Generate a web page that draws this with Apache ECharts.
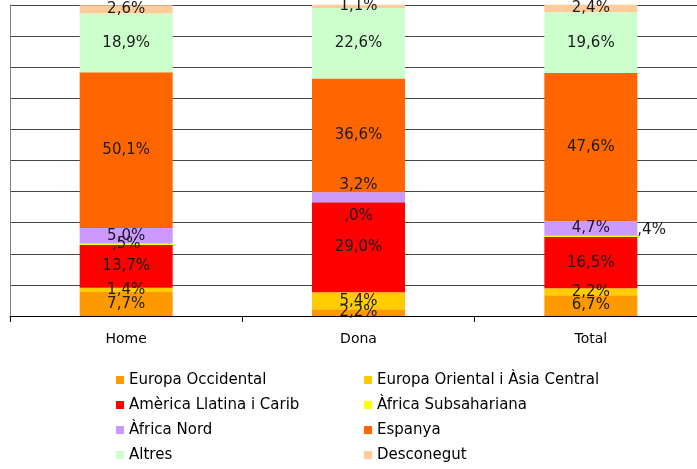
<!DOCTYPE html>
<html>
<head>
<meta charset="utf-8">
<script src="https://cdn.jsdelivr.net/npm/echarts@6/dist/echarts.min.js"></script>
<style>
  html, body { margin: 0; padding: 0; background: #fff; overflow: hidden; }
  #chart { width: 707px; height: 469px; }
</style>
</head>
<body>
<div id="chart"></div>
<script>
const categories = ["Home", "Dona", "Total"];
const europaOccidental = [7.7, 2.2, 6.7];
const europaOriental = [1.4, 5.4, 2.2];
const americaLlatina = [13.7, 29.0, 16.5];
const africaSubsahariana = [0.5, 0.0, 0.4];
const africaNord = [5.0, 3.2, 4.7];
const espanya = [50.1, 36.6, 47.6];
const altres = [18.9, 22.6, 19.6];
const desconegut = [2.6, 1.1, 2.4];

// legend order: left column, right column
const legendLeft = ["Europa Occidental", "Amèrica Llatina i Carib", "Àfrica Nord", "Altres"];
const legendRight = ["Europa Oriental i Àsia Central", "Àfrica Subsahariana", "Espanya", "Desconegut"];

const font = "DejaVu Sans";
const pct = (v) => v.toFixed(1).replace(".", ",") + "%";

function series(name, data, color, extra) {
  return Object.assign({
    name: name,
    type: "bar",
    stack: "total",
    barWidth: 93,
    clip: false,
    itemStyle: { color: color },
    label: {
      show: true,
      position: "inside",
      color: "#1a1a1a",
      fontFamily: font,
      fontSize: 15,
      formatter: (p) => pct(p.value),
    },
    data: data,
  }, extra || {});
}

function legendItem(name, left, top) {
  return {
    left: left,
    top: top,
    icon: "rect",
    itemWidth: 8,
    itemHeight: 8,
    padding: 0,
    textStyle: { fontFamily: font, fontSize: 15, color: "#000", lineHeight: 16 },
    data: [name],
  };
}

const legends = [];
legendLeft.forEach((n, i) => legends.push(legendItem(n, 116, 372 + i * 25)));
legendRight.forEach((n, i) => legends.push(legendItem(n, 364, 372 + i * 25)));

const chart = echarts.init(document.getElementById("chart"));
chart.setOption({
  animation: false,
  grid: { left: 10, right: 0, top: 5, bottom: 153 },
  legend: legends,
  xAxis: {
    type: "category",
    data: categories,
    axisLine: { lineStyle: { color: "#000" } },
    axisTick: { show: true, length: 6, lineStyle: { color: "#000" } },
    axisLabel: { margin: 16, fontFamily: font, fontSize: 14, color: "#000" },
  },
  yAxis: {
    type: "value",
    min: 0,
    max: 100,
    interval: 10,
    axisLabel: { show: false },
    axisTick: { show: false },
    axisLine: { show: true, lineStyle: { color: "#808080" } },
    splitLine: { lineStyle: { color: "#444" } },
  },
  series: [
    series("Europa Occidental", europaOccidental, "#FF9900"),
    series("Europa Oriental i Àsia Central", europaOriental, "#FFCC00"),
    series("Amèrica Llatina i Carib", americaLlatina, "#FF0000"),
    series("Àfrica Subsahariana", africaSubsahariana.map((v, i) => {
      if (i === 1) return { value: v, label: { offset: [0, 14] } };
      if (i === 2) return { value: v, label: { position: "right", distance: 0, offset: [0, -6] } };
      return v;
    }), "#FFFF00", {
      label: {
        show: true,
        position: "inside",
        color: "#1a1a1a",
        fontFamily: font,
        fontSize: 15,
        // leading zero hidden behind the neighbouring label in the original
        formatter: (p) => pct(p.value).replace(/^0/, ""),
      },
    }),
    series("Àfrica Nord", africaNord.map((v, i) => i === 1 ? { value: v, label: { offset: [0, -12] } } : v), "#CC99FF"),
    series("Espanya", espanya, "#FF6600"),
    series("Altres", altres, "#CCFFCC"),
    series("Desconegut", desconegut, "#FFCC99"),
  ],
});
</script>
</body>
</html>
